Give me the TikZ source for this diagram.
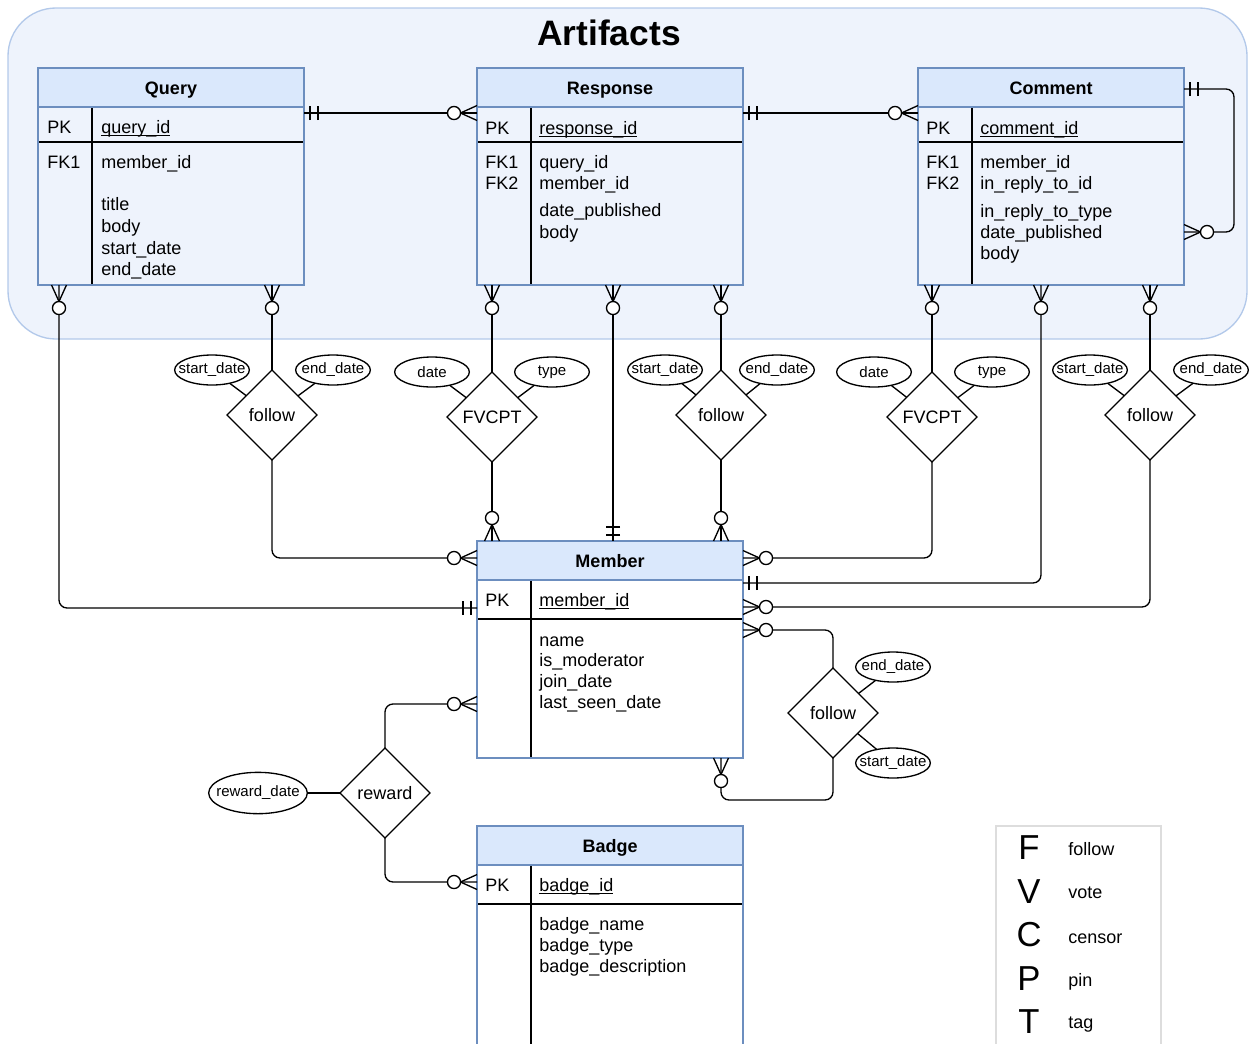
\documentclass[tikz,border=0pt]{standalone}
\usepackage{fontspec}
\setmainfont{Liberation Sans}
\usetikzlibrary{shapes.geometric,fit,calc,arrows.meta}

\definecolor{hdrblue}{HTML}{DAE8FC}
\definecolor{tblblue}{HTML}{6C8EBF}
\definecolor{artfill}{HTML}{EEF3FC}
\definecolor{artline}{HTML}{B3C9EA}
\definecolor{legline}{HTML}{DDDDDD}

\newcommand\fieldfont{\fontsize{13.5pt}{16pt}\selectfont}
\newcommand\attrfont{\fontsize{11.25pt}{13pt}\selectfont}
\newcommand\legfont{\fontsize{26pt}{30pt}\selectfont}
% underlined primary key name
\newcommand\keyname[1]{\setbox0\hbox{#1}\rlap{\rule[-2pt]{\wd0}{0.75pt}}\box0}

% crow's foot notation: zero or many
\pgfdeclarearrow{
  name = Zmany,
  setup code = {\pgfarrowssettipend{0pt}\pgfarrowssetlineend{0pt}\pgfarrowssetbackend{-22pt}},
  drawing code = {
    \pgfsetlinewidth{1pt}
    \pgfpathmoveto{\pgfqpoint{0pt}{5.6pt}}
    \pgfpathlineto{\pgfqpoint{-12.4pt}{0pt}}
    \pgfpathlineto{\pgfqpoint{0pt}{-5.6pt}}
    \pgfusepathqstroke
    \pgfpathcircle{\pgfqpoint{-17.25pt}{0pt}}{4.9pt}
    \pgfsetfillcolor{white}
    \pgfusepathqfillstroke
  },
}
% crow's foot notation: exactly one
\pgfdeclarearrow{
  name = One,
  setup code = {\pgfarrowssettipend{0pt}\pgfarrowssetlineend{0pt}\pgfarrowssetbackend{-11pt}},
  drawing code = {
    \pgfsetlinewidth{1pt}
    \pgfpathmoveto{\pgfqpoint{-4.5pt}{5.25pt}}
    \pgfpathlineto{\pgfqpoint{-4.5pt}{-5.25pt}}
    \pgfpathmoveto{\pgfqpoint{-10.5pt}{5.25pt}}
    \pgfpathlineto{\pgfqpoint{-10.5pt}{-5.25pt}}
    \pgfusepathqstroke
  },
}

\tikzset{
  conn/.style={line width=1pt, rounded corners=6pt},
  tblframe/.style={draw=tblblue, line width=1pt, inner sep=0pt, outer sep=0pt},
  fld/.style={anchor=base west, inner sep=0pt, font=\fieldfont},
  ttl/.style={anchor=base, inner sep=0pt, font=\bfseries\fieldfont},
  rel/.style={diamond, draw, fill=white, line width=1pt, minimum width=67.5pt,
    minimum height=67.5pt, inner sep=0pt, outer sep=0pt, font=\fieldfont},
  attr/.style={ellipse, draw, fill=white, line width=1pt, minimum width=56pt,
    minimum height=22.5pt, inner sep=0pt, outer sep=0pt, font=\attrfont},
  legletter/.style={anchor=base, inner sep=0pt, font=\legfont},
  legword/.style={anchor=base west, inner sep=0pt, font=\fieldfont},
}

% entity table: name, left, top, bottom, key-row height, title
\newcommand\entity[6]{%
  \fill[hdrblue] (#2,#3) rectangle (#2+266,#3+39);
  \draw[line width=1pt] (#2,#3+39+#5) -- (#2+266,#3+39+#5);
  \draw[line width=1pt] (#2+54,#3+39) -- (#2+54,#4);
  \draw[tblblue, line width=1pt] (#2,#3+39) -- (#2+266,#3+39);
  \node[tblframe, fit={(#2,#3) (#2+266,#4)}] (#1) {};
  \node[ttl] (#1-title) at (#2+133,#3+26.5) {#6};
}

\begin{document}
\begin{tikzpicture}[x=0.75pt,y=-0.75pt]
\useasboundingbox (0,0) rectangle (1251,1043);
\clip (0,0) rectangle (1251,1043);

% Artifacts group
\draw[fill=artfill, draw=artline, line width=1pt, rounded corners=36pt] (8,8) rectangle (1247,339);
\node[anchor=base, inner sep=0pt, font=\fontsize{26.5pt}{30pt}\selectfont\bfseries] (arttitle) at (609,45) {Artifacts};

% Query
\entity{query}{38}{68}{285}{35}{Query}
\node[fld] (q-pk) at (47,133.5) {PK};
\node[fld] (q-id) at (101,133.5) {\keyname{query\_id}};
\node[fld] (q-fk1) at (47,168) {FK1};
\node[fld] (q-f1) at (101,168) {member\_id};
\node[fld] (q-f2) at (101,210) {title};
\node[fld] (q-f3) at (101,232) {body};
\node[fld] (q-f4) at (101,254) {start\_date};
\node[fld] (q-f5) at (101,275) {end\_date};

% Response
\entity{response}{477}{68}{285}{35}{Response}
\node[fld] (r-pk) at (485,134) {PK};
\node[fld] (r-id) at (539,134) {\keyname{response\_id}};
\node[fld] (r-fk1) at (485,168.3) {FK1};
\node[fld] (r-fk2) at (485,189.3) {FK2};
\node[fld] (r-f1) at (539,168.3) {query\_id};
\node[fld] (r-f2) at (539,189.3) {member\_id};
\node[fld] (r-f3) at (539,216.7) {date\_published};
\node[fld] (r-f4) at (539,238.3) {body};

% Comment
\entity{comment}{918}{68}{285}{35}{Comment}
\node[fld] (c-pk) at (926,134) {PK};
\node[fld] (c-id) at (980,134) {\keyname{comment\_id}};
\node[fld] (c-fk1) at (926,168.3) {FK1};
\node[fld] (c-fk2) at (926,189.3) {FK2};
\node[fld] (c-f1) at (980,168.3) {member\_id};
\node[fld] (c-f2) at (980,189.3) {in\_reply\_to\_id};
\node[fld] (c-f3) at (980,217.3) {in\_reply\_to\_type};
\node[fld] (c-f4) at (980,238.3) {date\_published};
\node[fld] (c-f5) at (980,259.3) {body};

% Member
\entity{member}{477}{541}{758}{39}{Member}
\node[fld] (m-pk) at (485,606) {PK};
\node[fld] (m-id) at (539,606) {\keyname{member\_id}};
\node[fld] (m-f1) at (539,646) {name};
\node[fld] (m-f2) at (539,666.7) {is\_moderator};
\node[fld] (m-f3) at (539,687.3) {join\_date};
\node[fld] (m-f4) at (539,708.3) {last\_seen\_date};

% Badge
\entity{badge}{477}{826}{1070}{39}{Badge}
\node[fld] (b-pk) at (485,891.7) {PK};
\node[fld] (b-id) at (539,891.7) {\keyname{badge\_id}};
\node[fld] (b-f1) at (539,930.7) {badge\_name};
\node[fld] (b-f2) at (539,951) {badge\_type};
\node[fld] (b-f3) at (539,972.7) {badge\_description};

% Relationships
\node[rel] (f1) at (272,415) {\makebox[0pt]{follow}};
\node[rel] (v1) at (492,417) {\makebox[0pt]{FVCPT}};
\node[rel] (f2) at (721,415) {\makebox[0pt]{follow}};
\node[rel] (v2) at (932,417) {\makebox[0pt]{FVCPT}};
\node[rel] (f3) at (1150,415) {\makebox[0pt]{follow}};
\node[rel] (f4) at (833,713) {\makebox[0pt]{follow}};
\node[rel] (rw) at (385,793) {\makebox[0pt]{reward}};

% Attributes
\node[attr] (f1s) at (212,370) {\makebox[0pt]{start\_date}};
\node[attr] (f1e) at (333,370) {\makebox[0pt]{end\_date}};
\node[attr] (v1d) at (432,372) {\makebox[0pt]{date}};
\node[attr] (v1t) at (552,372) {\makebox[0pt]{type}};
\node[attr] (f2s) at (665,370) {\makebox[0pt]{start\_date}};
\node[attr] (f2e) at (777,370) {\makebox[0pt]{end\_date}};
\node[attr] (v2d) at (874,372) {\makebox[0pt]{date}};
\node[attr] (v2t) at (992,372) {\makebox[0pt]{type}};
\node[attr] (f3s) at (1090,370) {\makebox[0pt]{start\_date}};
\node[attr] (f3e) at (1211,370) {\makebox[0pt]{end\_date}};
\node[attr] (f4e) at (893,667) {\makebox[0pt]{end\_date}};
\node[attr] (f4s) at (893,763) {\makebox[0pt]{start\_date}};
\node[attr, minimum width=74pt, minimum height=31pt] (rwd) at (258,793) {\makebox[0pt]{reward\_date}};

\foreach \a/\r in {f1s/f1, f1e/f1, v1d/v1, v1t/v1, f2s/f2, f2e/f2, v2d/v2, v2t/v2,
                   f3s/f3, f3e/f3, f4e/f4, f4s/f4, rwd/rw}
  \draw[line width=1pt] (\a) -- (\r);

% Artifact to artifact
\draw[conn, One-Zmany] ($(query.north east)+(0,45)$) -- ($(response.north west)+(0,45)$);
\draw[conn, One-Zmany] ($(response.north east)+(0,45)$) -- ($(comment.north west)+(0,45)$);
\draw[conn, One-Zmany] ($(comment.north east)+(0,21)$) -- ++(50,0) |- ($(comment.north east)+(0,164)$);

% Query to Member
\draw[conn, Zmany-One] ($(query.south west)+(21,0)$) |- ($(member.north west)+(0,67)$);
\draw[conn, Zmany-] ($(query.south west)+(234,0)$) -- (f1.north);
\draw[conn, -Zmany] (f1.south) |- ($(member.north west)+(0,17)$);

% Response to Member
\draw[conn, Zmany-] ($(response.south west)+(15,0)$) -- (v1.north);
\draw[conn, -Zmany] (v1.south) -- ($(member.north west)+(15,0)$);
\draw[conn, Zmany-One] ($(response.south west)+(136,0)$) -- ($(member.north west)+(136,0)$);
\draw[conn, Zmany-] ($(response.south west)+(244,0)$) -- (f2.north);
\draw[conn, -Zmany] (f2.south) -- ($(member.north west)+(244,0)$);

% Comment to Member
\draw[conn, Zmany-] ($(comment.south west)+(14,0)$) -- (v2.north);
\draw[conn, -Zmany] (v2.south) |- ($(member.north east)+(0,17)$);
\draw[conn, Zmany-One] ($(comment.south west)+(123,0)$) |- ($(member.north east)+(0,42)$);
\draw[conn, Zmany-] ($(comment.south west)+(232,0)$) -- (f3.north);
\draw[conn, -Zmany] (f3.south) |- ($(member.north east)+(0,66)$);

% Member follows Member
\draw[conn, Zmany-] ($(member.north east)+(0,89)$) -| (f4.north);
\draw[conn, -Zmany] (f4.south) -- ++(0,42) -| ($(member.south west)+(244,0)$);

% Member rewarded with Badge
\draw[conn, -Zmany] (rw.north) |- ($(member.north west)+(0,163)$);
\draw[conn, -Zmany] (rw.south) |- ($(badge.north west)+(0,56)$);

% Legend
\draw[legline, line width=1pt] (996,826) rectangle (1161,1060);
\node[legletter] (lF) at (1029,859.3) {F};
\node[legletter] (lV) at (1029,903.3) {V};
\node[legletter] (lC) at (1029,946.7) {C};
\node[legletter] (lP) at (1029,990) {P};
\node[legletter] (lT) at (1029,1033.3) {T};
\node[legword] (wF) at (1068,855) {follow};
\node[legword] (wV) at (1068,898.3) {vote};
\node[legword] (wC) at (1068,943) {censor};
\node[legword] (wP) at (1068,986.7) {pin};
\node[legword] (wT) at (1068,1028) {tag};
\end{tikzpicture}
\end{document}
